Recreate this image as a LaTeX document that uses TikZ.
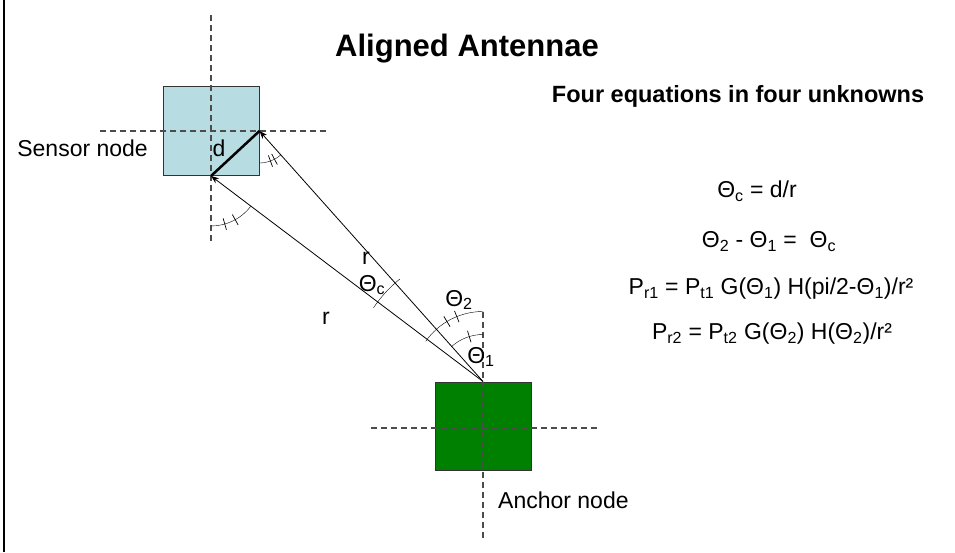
\documentclass[tikz,border=0pt]{standalone}
\usepackage{fontspec}
\setmainfont{Liberation Sans}
\usetikzlibrary{arrows.meta, positioning, calc}

\definecolor{sensorblue}{RGB}{183,221,227}
\definecolor{anchorgreen}{RGB}{0,128,0}

\tikzset{
    box/.style={draw=black!80, line width=1pt, minimum width=96pt, minimum height=89pt, inner sep=0pt},
    axis/.style={black!70, line width=1.2pt, dash pattern=on 6pt off 4pt},
    ray/.style={-{Stealth[length=8pt,width=6pt]}, line width=0.8pt},
    lbl/.style={font=\fontsize{23}{27}\selectfont, inner sep=0pt},
    tick/.style={line width=0.7pt}
}

\begin{document}
\begin{tikzpicture}[x=1pt, y=1pt]
    \useasboundingbox (0,0) rectangle (955,552);
    % left border
    \draw[line width=2pt] (4,0) -- (4,552);

    % Titles
    \node[font=\fontsize{31}{37}\selectfont\bfseries, inner sep=0pt, anchor=base] (title) at (467,495) {Aligned Antennae};
    \node[font=\fontsize{23.5}{28}\selectfont\bfseries, inner sep=0pt, anchor=base] (subtitle) at (738,449) {Four equations in four unknowns};

    % Sensor node
    \node[box, fill=sensorblue] (sensor) at (211,421) {};
    \draw[axis] (211,537) -- (211,309);
    \draw[axis] (100,421) -- (328,421);
    \node[lbl, anchor=base east] (sensorlbl) at (148,395) {Sensor node};

    % Anchor node
    \node[box, fill=anchorgreen, minimum height=88pt] (anchor) at (483,126) {};
    \draw[axis] (483,240) -- (483,13);
    \draw[axis] (371,124) -- (600,124);
    \node[lbl, anchor=base west] (anchorlbl) at (498,44) {Anchor node};

    % d and the two rays
    \draw[line width=2.5pt] (sensor.south) -- (sensor.east);
    \draw[ray] (anchor.north) -- (sensor.east);
    \draw[ray] (anchor.north) -- (sensor.south);
    \node[lbl] (dlbl) at (219,404) {d};
    \node[lbl] (rup) at (366,294) {r};
    \node[lbl] (rlow) at (326,234) {r};

    % Angles at the anchor
    \draw ($(anchor.north)+(90:70)$) arc[start angle=90, end angle=145, radius=70pt];
    \foreach \a in {112,121}
        \draw[tick] ($(anchor.north)+(\a:64)$) -- ($(anchor.north)+(\a:76)$);
    \draw ($(anchor.north)+(90:47)$) arc[start angle=90, end angle=132, radius=47pt];
    \draw[tick] ($(anchor.north)+(107:41)$) -- ($(anchor.north)+(107:53)$);
    \draw ($(anchor.north)+(129:132)$) arc[start angle=129, end angle=146, radius=132pt];
    \node[lbl] (thc) at (372,267) {Θ\textsubscript{c}};
    \node[lbl] (th2) at (459,252) {Θ\textsubscript{2}};
    \node[lbl] (th1) at (481,195) {Θ\textsubscript{1}};

    % Angles at the sensor
    \draw ($(sensor.east)+(-90:32)$) arc[start angle=-90, end angle=-48, radius=32pt];
    \foreach \a in {-70,-62}
        \draw[tick] ($(sensor.east)+(\a:26)$) -- ($(sensor.east)+(\a:38)$);
    \draw ($(sensor.south)+(-90:50)$) arc[start angle=-90, end angle=-37, radius=50pt];
    \foreach \a in {-74,-61}
        \draw[tick] ($(sensor.south)+(\a:44)$) -- ($(sensor.south)+(\a:56)$);

    % Equations
    \node[lbl, anchor=base] (eqa) at (757,354) {Θ\textsubscript{c} = d/r};
    \node[lbl, anchor=base] (eqb) at (769,304) {Θ\textsubscript{2} - Θ\textsubscript{1} =\ \ Θ\textsubscript{c}};
    \node[lbl, anchor=base] (eqc) at (771,257) {P\textsubscript{r1} = P\textsubscript{t1} G(Θ\textsubscript{1}) H(pi/2-Θ\textsubscript{1})/r²};
    \node[lbl, anchor=base] (eqd) at (772,212) {P\textsubscript{r2} = P\textsubscript{t2} G(Θ\textsubscript{2}) H(Θ\textsubscript{2})/r²};
\end{tikzpicture}
\end{document}
